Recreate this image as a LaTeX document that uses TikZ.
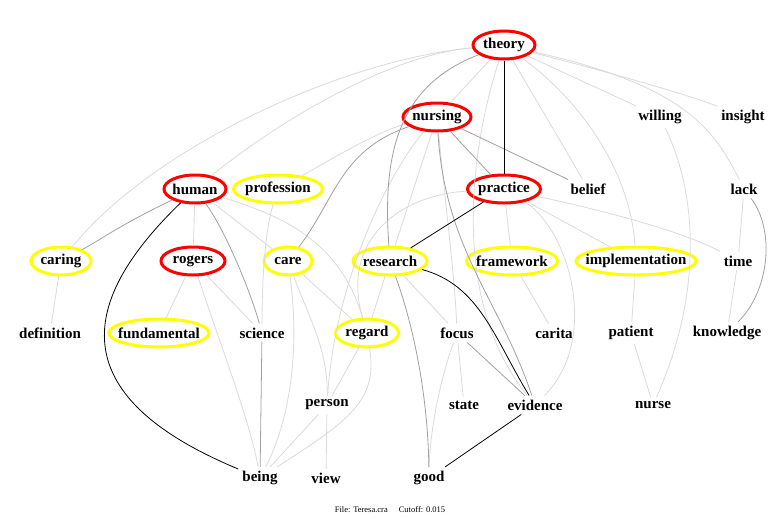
\documentclass[tikz,border=0pt]{standalone}
\usepackage{fontspec}
\setmainfont{Liberation Serif}
\usetikzlibrary{shapes.geometric}
\definecolor{hubred}{RGB}{255,0,0}
\definecolor{keyyellow}{RGB}{255,255,0}
\definecolor{liteedge}{RGB}{218,218,218}
\definecolor{midedge}{RGB}{160,160,160}

\begin{document}
\begin{tikzpicture}[x=1pt,y=-1pt,
  word/.style={font=\bfseries\fontsize{15}{15}\selectfont, inner sep=4pt},
  hub/.style={word, ellipse, draw=hubred, line width=3pt, inner xsep=-20pt, inner ysep=0pt, minimum height=28pt, minimum width=#1},
  key/.style={hub=#1, draw=keyyellow},
  lite/.style={draw=liteedge, line width=0.8pt},
  mid/.style={draw=midedge, line width=0.8pt},
  strong/.style={draw=black, line width=0.8pt}]
\useasboundingbox (0,0) rectangle (780,523);
% words
\node[hub=62pt] (theory) at (504,45) {theory};
\node[hub=68pt] (nursing) at (437,117) {nursing};
\node[word] (willing) at (660,117) {willing};
\node[word] (insight) at (743,117) {insight};
\node[hub=62pt] (human) at (195,189) {human};
\node[key=89pt] (profession) at (278,189) {profession};
\node[hub=73pt] (practice) at (504,189) {practice};
\node[word] (belief) at (588,189) {belief};
\node[word] (lack) at (744,189) {lack};
\node[key=60pt] (caring) at (61,261) {caring};
\node[hub=64pt] (rogers) at (193,261) {rogers};
\node[key=48pt] (care) at (288,261) {care};
\node[key=74pt] (research) at (390,261) {research};
\node[key=91pt] (framework) at (512,261) {framework};
\node[key=120pt] (implementation) at (636,261) {implementation};
\node[word] (time) at (738,261) {time};
\node[word] (definition) at (50,333) {definition};
\node[key=100pt] (fundamental) at (159,333) {fundamental};
\node[word] (science) at (262,333) {science};
\node[key=63pt] (regard) at (367,333) {regard};
\node[word] (focus) at (457,333) {focus};
\node[word] (carita) at (554,333) {carita};
\node[word] (patient) at (631,333) {patient};
\node[word] (knowledge) at (727,333) {knowledge};
\node[word] (person) at (327,405) {person};
\node[word] (state) at (464,405) {state};
\node[word] (evidence) at (535,405) {evidence};
\node[word] (nurse) at (653,405) {nurse};
\node[word] (being) at (260,478) {being};
\node[word] (view) at (326,478) {view};
\node[word] (good) at (429,478) {good};
\node[font=\fontsize{8.5}{8.5}\selectfont] (caption) at (390,510) {File: Teresa.cra\hspace{11pt}Cutoff: 0.015};
% weak links
\draw[lite] (theory) .. controls (340,60) and (150,150) .. (caring);
\draw[lite] (theory) .. controls (390,55) and (280,120) .. (human);
\draw[lite] (theory) -- (nursing);
\draw[lite] (theory) .. controls (530,90) and (560,140) .. (belief);
\draw[lite] (theory) .. controls (580,100) and (630,170) .. (implementation);
\draw[lite] (theory) -- (willing);
\draw[lite] (theory) .. controls (600,70) and (690,95) .. (insight);
\draw[lite] (theory) .. controls (680,85) and (712,125) .. (lack);
\draw[lite] (theory) .. controls (470,150) and (450,300) .. (evidence);
\draw[lite] (nursing) .. controls (380,130) and (330,160) .. (profession);
\draw[lite] (nursing) -- (research);
\draw[lite] (nursing) .. controls (445,200) and (455,280) .. (focus);
\draw[lite] (nursing) .. controls (390,170) and (335,280) .. (person);
\draw[lite] (practice) -- (framework);
\draw[lite] (practice) -- (implementation);
\draw[lite] (practice) .. controls (600,210) and (680,230) .. (time);
\draw[lite] (practice) .. controls (570,230) and (600,340) .. (evidence);
\draw[lite] (practice) .. controls (400,195) and (340,240) .. (regard);
\draw[lite] (research) -- (regard);
\draw[lite] (research) -- (focus);
\draw[lite] (human) -- (rogers);
\draw[lite] (human) -- (care);
\draw[lite] (human) .. controls (280,215) and (340,240) .. (regard);
\draw[lite] (rogers) -- (fundamental);
\draw[lite] (rogers) -- (science);
\draw[lite] (rogers) .. controls (215,330) and (250,420) .. (being);
\draw[lite] (caring) -- (definition);
\draw[lite] (profession) .. controls (265,230) and (262,280) .. (science);
\draw[lite] (care) .. controls (310,320) and (328,350) .. (person);
\draw[lite] (care) -- (regard);
\draw[lite] (care) .. controls (300,350) and (290,420) .. (being);
\draw[lite] (regard) -- (person);
\draw[lite] (regard) .. controls (378,400) and (350,420) .. (being);
\draw[lite] (person) -- (being);
\draw[lite] (person) -- (view);
\draw[lite] (focus) -- (state);
\draw[lite] (focus) .. controls (440,380) and (430,430) .. (good);
\draw[lite] (framework) -- (carita);
\draw[lite] (implementation) -- (patient);
\draw[lite] (patient) -- (nurse);
\draw[lite] (willing) .. controls (700,200) and (700,300) .. (nurse);
\draw[lite] (lack) -- (time);
\draw[lite] (time) -- (knowledge);
% medium links
\draw[mid] (theory) .. controls (400,85) and (382,150) .. (research);
\draw[mid] (nursing) .. controls (340,150) and (335,200) .. (care);
\draw[mid] (nursing) -- (belief);
\draw[mid] (nursing) -- (practice);
\draw[mid] (nursing) .. controls (445,250) and (500,300) .. (evidence);
\draw[mid] (research) .. controls (415,330) and (428,400) .. (good);
\draw[mid] (human) .. controls (120,225) and (100,240) .. (caring);
\draw[mid] (human) .. controls (225,230) and (250,290) .. (science);
\draw[mid] (science) -- (being);
\draw[mid] (lack) .. controls (775,230) and (770,290) .. (knowledge);
\draw[mid] (focus) -- (evidence);
% strong links
\draw[strong] (theory) -- (practice);
\draw[strong] (practice) -- (research);
\draw[strong] (research) .. controls (480,285) and (495,340) .. (evidence);
\draw[strong] (evidence) -- (good);
\draw[strong] (human) .. controls (80,300) and (60,395) .. (being);
\end{tikzpicture}
\end{document}
